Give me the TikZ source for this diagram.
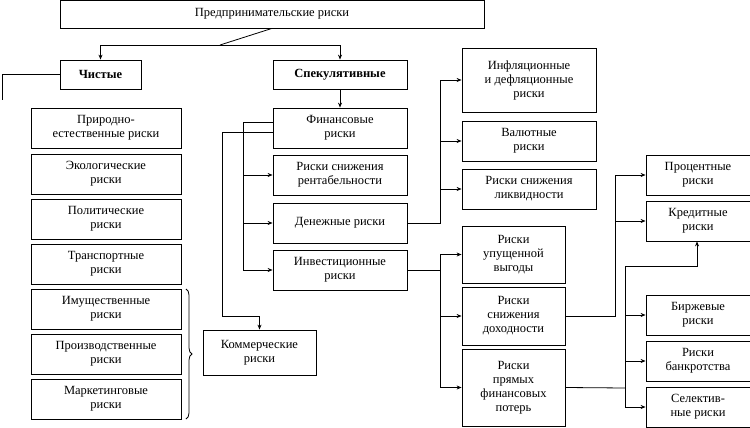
\documentclass[tikz,border=0pt]{standalone}
\usepackage{fontspec}
\setmainfont{Liberation Serif}
\usetikzlibrary{arrows.meta,decorations.pathreplacing}
\begin{document}
\begin{tikzpicture}[x=1pt,y=-1pt,
    risk/.style ={draw, thick, inner sep=0pt, align=center, font=\fontsize{12.5}{14}\selectfont},
    arr/.style ={thick, -{Stealth[length=5pt,width=4pt]}}]
   \useasboundingbox (0,0) rectangle (750,428);
   \newcommand{\rbox}[6]{\node[risk, minimum width=#3-#2, minimum height=#5-#4] (#1) at ({(#2+#3)/2},{(#4+#5)/2}) {#6};}
   \rbox{top}{60}{484}{0}{28}{Предпринимательские риски}
   \rbox{pure}{60}{141}{60}{89}{\textbf{Чистые}}
   \rbox{spec}{273}{407}{60}{89}{\textbf{Спекулятивные}}
   % left column
   \rbox{nat}{31}{181}{108}{148}{Природно-\\естественные риски}
   \rbox{eco}{31}{181}{154}{194}{Экологические\\риски}
   \rbox{pol}{31}{181}{199}{239}{Политические\\риски}
   \rbox{tra}{31}{181}{244}{284}{Транспортные\\риски}
   \rbox{prop}{31}{181}{289}{329}{Имущественные\\риски}
   \rbox{prod}{31}{181}{334}{374}{Производственные\\риски}
   \rbox{mark}{31}{181}{379}{419}{Маркетинговые\\риски}
   \rbox{comm}{203}{316}{330}{375}{Коммерческие\\риски}
   % financial column
   \rbox{fin}{273}{407}{108}{148}{Финансовые\\риски}
   \rbox{rent}{273}{407}{155}{195}{Риски снижения\\рентабельности}
   \rbox{mon}{273}{407}{203}{243}{Денежные риски}
   \rbox{inv}{273}{407}{250}{290}{Инвестиционные\\риски}
   \rbox{infl}{462}{596}{48}{112}{Инфляционные\\и дефляционные\\риски}
   \rbox{cur}{462}{596}{121}{161}{Валютные\\риски}
   \rbox{liq}{462}{596}{169}{209}{Риски снижения\\ликвидности}
   \rbox{lost}{462}{565}{226}{283}{Риски\\упущенной\\выгоды}
   \rbox{yield}{462}{565}{287}{345}{Риски\\снижения\\доходности}
   \rbox{loss}{462}{565}{349}{426}{Риски\\прямых\\финансовых\\потерь}
   \rbox{int}{646}{750}{155}{195}{Процентные\\риски}
   \rbox{cred}{646}{750}{201}{241}{Кредитные\\риски}
   \rbox{exch}{646}{750}{295}{335}{Биржевые\\риски}
   \rbox{bank}{646}{750}{341}{381}{Риски\\банкротства}
   \rbox{sel}{646}{750}{387}{427}{Селектив-\\ные риски}

   \draw[thick] (top.south) -- (220,45);
   \draw[arr] (220,45) -| (pure.north);
   \draw[arr] (220,45) -| (spec.north);
   \draw[thick] (pure.west) -| (2,100);
   \draw[decorate, decoration={brace, amplitude=6pt}, thick] (186,289) -- (186,419);
   \draw[arr] (spec) -- (fin);
   \draw[arr] ([yshift=-4pt]fin.west) -| (222,316) -| (comm.north);
   \draw[thick] ([yshift=6pt]fin.west) -| (243,270);
   \foreach \b in {rent,mon,inv} \draw[arr] (243,0 |- \b.west) -- (\b.west);
   \draw[thick] (mon.east) -| (440,80);
   \draw[thick] (440,189) -- (440,223);
   \foreach \b in {infl,cur,liq} \draw[arr] (440,0 |- \b.west) -- (\b.west);
   \draw[thick] (inv.east) -- (440,270);
   \draw[thick] (440,254) -- (440,388);
   \foreach \b in {lost,yield,loss} \draw[arr] (440,0 |- \b.west) -- (\b.west);
   \draw[thick] (yield.east) -| (615,175);
   \foreach \b in {int,cred} \draw[arr] (615,0 |- \b.west) -- (\b.west);
   \draw[thick] (loss.east) -- (625,388);
   \draw[thick] (625,266) -- (625,407);
   \foreach \b in {exch,bank,sel} \draw[arr] (625,0 |- \b.west) -- (\b.west);
   \draw[arr] (625,266) -| (697,0 |- cred.south);
\end{tikzpicture}
\end{document}
